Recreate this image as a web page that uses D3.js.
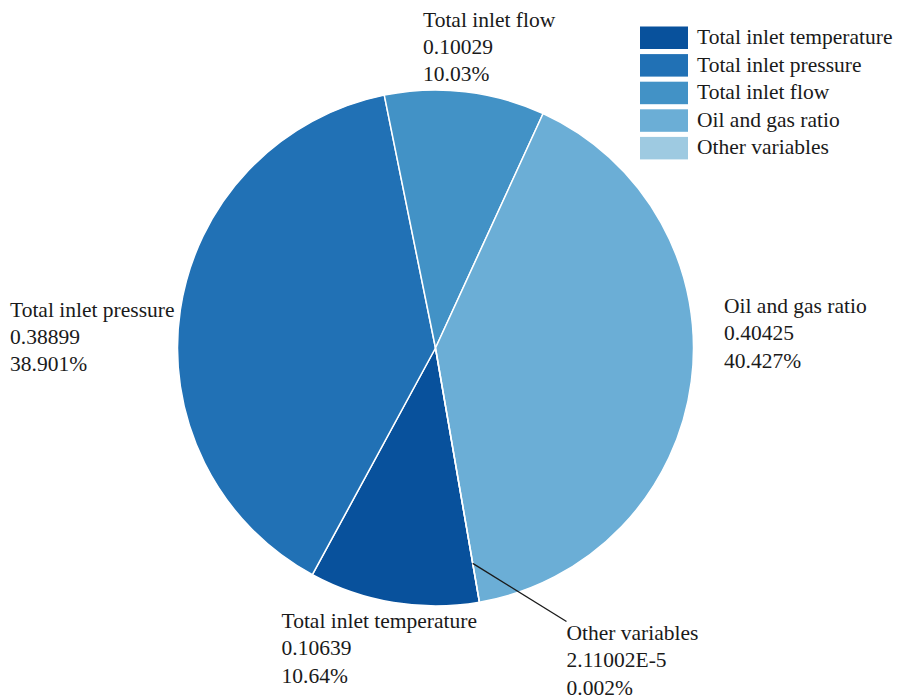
<!DOCTYPE html>
<html>
<head>
<meta charset="utf-8">
<script src="https://cdn.jsdelivr.net/npm/d3@7"></script>
<style>
  html, body { margin: 0; padding: 0; background: #fff; }
  svg { display: block; }
  text { font-family: "Liberation Serif", "Times New Roman", serif; fill: #1a1a1a; }
</style>
</head>
<body>
<svg id="chart" width="903" height="700"></svg>
<script>
// Variable contributions
const categories = ["Total inlet temperature", "Total inlet pressure", "Total inlet flow", "Oil and gas ratio", "Other variables"];
const values = [0.10639, 0.38899, 0.10029, 0.40425, 2.11002e-5];
const valueLabels = ["0.10639", "0.38899", "0.10029", "0.40425", "2.11002E-5"];
const percentLabels = ["10.64%", "38.901%", "10.03%", "40.427%", "0.002%"];
const colors = ["#08519c", "#2171b5", "#4292c6", "#6baed6", "#9ecae1"];

const svg = d3.select("#chart");
const cx = 435.5, cy = 348, radius = 258;
const fontSize = 21.5, lineGap = 27.3;

const start = 170.2 * Math.PI / 180;
const pie = d3.pie().sort(null).value(d => d.value)
  .startAngle(start).endAngle(start + 2 * Math.PI);
const data = categories.map((c, i) => ({ name: c, value: values[i], i }));
const arcs = pie(data);
const arc = d3.arc().innerRadius(0).outerRadius(radius);

const g = svg.append("g").attr("transform", `translate(${cx},${cy})`);
g.selectAll("path.slice").data(arcs).join("path")
  .attr("class", "slice")
  .attr("d", arc)
  .attr("fill", d => colors[d.data.i])
  .attr("stroke", "#fff")
  .attr("stroke-width", 1.5)
  .attr("stroke-linejoin", "round");

// Label anchor positions (left x, first baseline) for each slice
const labelPos = [
  [281.5, 628],
  [10, 316.5],
  [423, 26.5],
  [724, 313],
  [566.5, 640]
];

arcs.forEach(d => {
  const [lx, ly] = labelPos[d.data.i];
  const t = svg.append("text").attr("x", lx).attr("y", ly).attr("font-size", fontSize);
  [d.data.name, valueLabels[d.data.i], percentLabels[d.data.i]].forEach((s, j) => {
    t.append("tspan").attr("x", lx).attr("y", ly + j * lineGap).text(s);
  });
});

// Leader line for the tiny slice
const tiny = arcs.find(d => d.data.i === 4);
const mid = (tiny.startAngle + tiny.endAngle) / 2;
const r0 = radius * 0.847;
svg.append("line")
  .attr("x1", cx + r0 * Math.sin(mid))
  .attr("y1", cy - r0 * Math.cos(mid))
  .attr("x2", 566.5)
  .attr("y2", 621.5)
  .attr("stroke", "#1a1a1a")
  .attr("stroke-width", 1.3);

// Legend
const legend = svg.append("g").attr("transform", "translate(640,26.5)");
categories.forEach((c, i) => {
  const row = legend.append("g").attr("transform", `translate(0,${i * 27.6})`);
  row.append("rect").attr("width", 48).attr("height", 22.5).attr("fill", colors[i]);
  row.append("text").attr("x", 57).attr("y", 17.5).attr("font-size", fontSize).text(c);
});
</script>
</body>
</html>
